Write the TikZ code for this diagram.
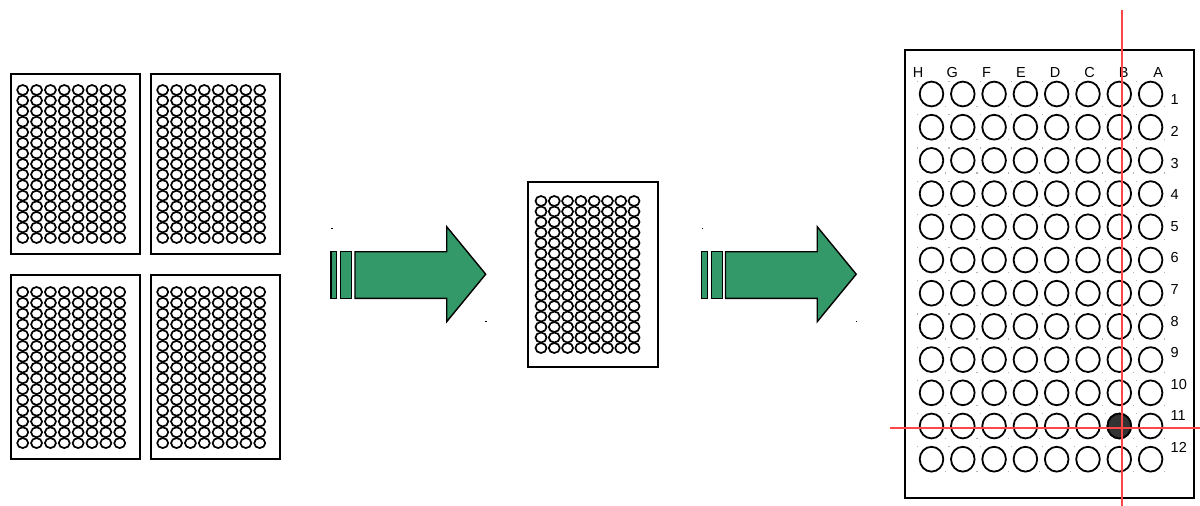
\documentclass[tikz,border=0pt]{standalone}
\usepackage{fontspec}
\setmainfont{Liberation Sans}
\definecolor{arrowgreen}{RGB}{52,153,104}
\definecolor{redline}{RGB}{255,70,70}
\definecolor{wellfill}{RGB}{51,51,51}
\newcommand\wellgrid[7]{% x0 y0 dx dy rx ry rows-1
  \foreach \i in {0,...,7}{\foreach \j in {0,...,#7}{%
    \draw[swell] ({#1+\i*#3},{#2+\j*#4}) ellipse [x radius=#5, y radius=#6];}}}
\begin{document}
\begin{tikzpicture}[x=1pt,y=-1pt,
  plate/.style={draw=black, line width=2.3pt, fill=white, inner sep=0pt, anchor=north west},
  swell/.style={draw=black, line width=1.7pt},
  bwell/.style={draw=black, line width=1.8pt},
  filledwell/.style={draw=black, line width=1.8pt, fill=wellfill},
  arrowbody/.style={fill=arrowgreen, draw=black, line width=1.4pt, line join=miter},
  lbl/.style={font=\fontsize{14.5}{16}\selectfont, inner sep=0pt},
  crosshair/.style={draw=redline, line width=1.2pt},
  tinydot/.style={fill=gray!60, draw=none},
  handle/.style={fill=black, draw=none}]
\useasboundingbox (0,0) rectangle (1200,506);

% four small plates
\node[plate, minimum width=129pt, minimum height=180.5pt] (plateA) at (10,72.5) {};
\node[plate, minimum width=129pt, minimum height=180.5pt] (plateB) at (150,72.5) {};
\node[plate, minimum width=129pt, minimum height=184pt] (plateC) at (10,273.5) {};
\node[plate, minimum width=129pt, minimum height=184pt] (plateD) at (150,273.5) {};
\wellgrid{22.7}{90}{13.86}{10.57}{5.5}{5.0}{14}
\wellgrid{162.7}{90}{13.86}{10.57}{5.5}{5.0}{14}
\wellgrid{22.7}{292}{13.86}{10.79}{5.5}{5.0}{14}
\wellgrid{162.7}{292}{13.86}{10.79}{5.5}{5.0}{14}

% middle plate
\node[plate, line width=1.8pt, minimum width=130pt, minimum height=185pt] (plateM) at (527,181) {};
\wellgrid{541}{201}{13.29}{10.5}{5.5}{5.0}{14}

% arrows
\foreach \s/\n in {0/one,370.5/two}{
  \begin{scope}[xshift=\s]
    \draw[arrowbody] (331,251.7) rectangle (336.7,298.3);
    \draw[arrowbody] (340.7,251.7) rectangle (351.7,298.3);
    \draw[arrowbody] (355,251.7) -- (446.7,251.7) -- (446.7,226.7) -- (485.7,274.2)
      -- (446.7,321.7) -- (446.7,298.3) -- (355,298.3) -- cycle;
    \fill[handle] (331,227.5) rectangle (332.5,229);
    \fill[handle] (485,320.5) rectangle (486.5,322);
  \end{scope}
}

% big plate
\node[plate, minimum width=289pt, minimum height=448pt] (plateBig) at (904,49) {};
\foreach \i in {0,...,7}{\foreach \j in {0,...,11}{
  \pgfmathsetmacro\cx{931.5+\i*31.3}
  \pgfmathsetmacro\cy{94+\j*33.2}
  \fill[tinydot] (\cx-14.5,\cy-13) rectangle +(1.2,1.2);
  \fill[tinydot] (\cx+13.5,\cy+12) rectangle +(1.2,1.2);
  \draw[bwell] (\cx,\cy) ellipse [x radius=11.8, y radius=12.4];
}}
\draw[filledwell] (931.5+6*31.3,94+10*33.2) ellipse [x radius=11.8, y radius=12.4];

% column labels
\foreach \L [count=\k from 0] in {H,G,F,E,D,C,B,A}{
  \node[lbl] (col\L) at (918+\k*34.3,73) {\L};
}
% row labels
\foreach \r [count=\k from 0] in {1,...,12}{
  \node[lbl, anchor=west] (row\r) at (1170.5,100+\k*31.6) {\r};
}

% crosshair
\coordinate (vtop) at (1122,10);
\coordinate (vbot) at (1122,506);
\coordinate (hleft) at (890,428);
\coordinate (hright) at (1200,428);
\draw[crosshair] (vtop) -- (vbot);
\draw[crosshair] (hleft) -- (hright);
\end{tikzpicture}
\end{document}
